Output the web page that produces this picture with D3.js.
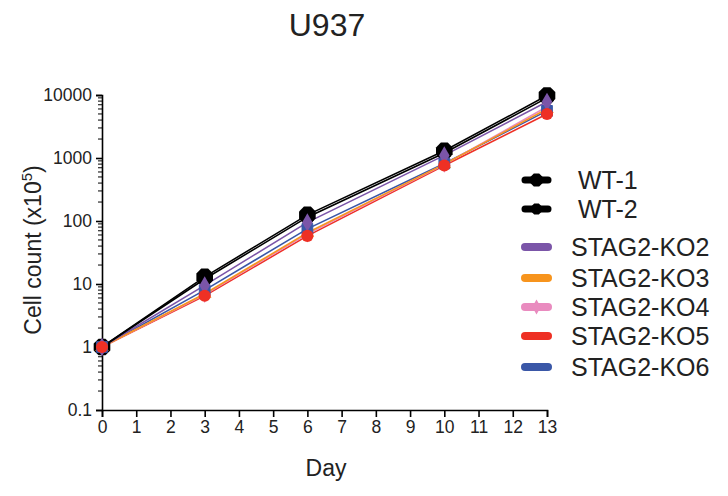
<!DOCTYPE html>
<html>
<head>
<meta charset="utf-8">
<script src="https://cdn.jsdelivr.net/npm/d3@7"></script>
<style>
  body { margin: 0; background: #fff; }
  svg text { font-family: "Liberation Sans", Arial, sans-serif; fill: #222; }
</style>
</head>
<body>
<svg id="chart" width="728" height="496"></svg>
<script>
// Data
var days = [0, 3, 6, 10, 13];
var seriesNames = ['WT-1', 'WT-2', 'STAG2-KO2', 'STAG2-KO3', 'STAG2-KO4', 'STAG2-KO5', 'STAG2-KO6'];
var wt1 = [1, 13, 125, 1300, 9800];
var wt2 = [1, 12, 115, 1200, 9000];
var ko2 = [1, 9.5, 95, 1100, 7800];
var ko3 = [1, 7, 65, 800, 6000];
var ko4 = [1, 6.8, 62, 790, 6500];
var ko5 = [1, 6.5, 58, 760, 5000];
var ko6 = [1, 8, 75, 820, 5600];
var yTicks = [0.1, 1, 10, 100, 1000, 10000];
var xTicks = d3.range(0, 14);

var colors = ['#000000', '#000000', '#7b55a8', '#f7941d', '#e98bbf', '#ee3024', '#3a57a7'];
var symbols = ['octagon', 'octagon', 'diamond', 'triangle', 'diamond', 'circle', 'square'];
var allValues = [wt1, wt2, ko2, ko3, ko4, ko5, ko6];

var svg = d3.select('#chart');
var padding = {l: 102, t: 95, r: 181, b: 86};
var width = 728 - padding.l - padding.r;
var height = 496 - padding.t - padding.b;

var xScale = d3.scaleLinear().domain([0, 13]).range([0, width]);
var yScale = d3.scaleLog().domain([0.1, 10000]).range([height, 0]);

var chartG = svg.append('g')
    .attr('transform', 'translate(' + [padding.l, padding.t] + ')');

// title
svg.append('text')
    .attr('x', 327).attr('y', 36)
    .attr('text-anchor', 'middle')
    .style('font-size', '32px')
    .text('U937');

// x axis
var xAxis = chartG.append('g')
    .attr('transform', 'translate(0,' + height + ')')
    .call(d3.axisBottom(xScale).tickValues(xTicks).tickSize(7).tickPadding(4).tickFormat(d3.format('d')));
xAxis.selectAll('text').style('font-size', '17.5px');

// y axis, major ticks
var yAxis = chartG.append('g')
    .call(d3.axisLeft(yScale).tickValues(yTicks).tickSize(6).tickPadding(4)
        .tickFormat(function(d) { return d < 1 ? '0.1' : d3.format('d')(d); }));
yAxis.selectAll('text').style('font-size', '17.5px');

// y axis minor ticks
var minor = [];
for (var e = -1; e < 4; e++) {
    for (var m = 2; m <= 9; m++) minor.push(m * Math.pow(10, e));
}
chartG.append('g').selectAll('line')
    .data(minor).enter().append('line')
    .attr('x1', -4).attr('x2', 0)
    .attr('y1', d => yScale(d)).attr('y2', d => yScale(d))
    .attr('stroke', '#000').attr('stroke-width', 1);

chartG.selectAll('.domain, .tick line').attr('stroke', '#000').attr('stroke-width', 1.6);

// axis labels
svg.append('text')
    .attr('x', 326).attr('y', 476)
    .attr('text-anchor', 'middle')
    .style('font-size', '23px')
    .text('Day');

var yl = svg.append('text')
    .attr('transform', 'translate(41,250)rotate(-90)')
    .attr('text-anchor', 'middle')
    .style('font-size', '23px');
yl.append('tspan').text('Cell count (x10');
yl.append('tspan').attr('dy', -9).style('font-size', '15px').text('5');
yl.append('tspan').attr('dy', 9).text(')');

function symbolPath(name, r) {
    if (name === 'octagon') {
        var pts = d3.range(8).map(function(i) {
            var a = Math.PI / 8 + i * Math.PI / 4;
            return [r * Math.cos(a), r * Math.sin(a)];
        });
        return 'M' + pts.join('L') + 'Z';
    }
    var map = {diamond: d3.symbolDiamond, triangle: d3.symbolTriangle, circle: d3.symbolCircle, square: d3.symbolSquare};
    return d3.symbol().type(map[name]).size(r * r * 3.2)();
}
var markerR = [9, 7.5, 5.5, 5, 5, 6, 6];

var line = d3.line()
    .x(d => xScale(d[0]))
    .y(d => yScale(d[1]));

// lines drawn back to front
var order = [6, 5, 4, 3, 2, 1, 0];
order.forEach(function(i) {
    var pts = days.map((d, j) => [d, allValues[i][j]]);
    chartG.append('path')
        .datum(pts)
        .attr('d', line)
        .attr('fill', 'none')
        .attr('stroke', colors[i])
        .attr('stroke-width', 1.6);
});
// markers: WT first (behind), then the KO ones
[0, 1, 4, 3, 6, 2, 5].forEach(function(i) {
    chartG.append('g').selectAll('path')
        .data(days.map((d, j) => [d, allValues[i][j]]))
        .enter().append('path')
        .attr('transform', d => 'translate(' + [xScale(d[0]), yScale(d[1])] + ')')
        .attr('d', symbolPath(symbols[i], markerR[i]))
        .attr('fill', colors[i])
        .attr('stroke', i === 6 ? '#3a57a7' : 'none');
});

// legend
var legendY = [180, 209, 247, 278, 307, 336, 367];
var legend = svg.append('g');
seriesNames.forEach(function(name, i) {
    var g = legend.append('g').attr('transform', 'translate(0,' + legendY[i] + ')');
    g.append('line')
        .attr('x1', 525).attr('x2', 548)
        .attr('stroke', colors[i])
        .attr('stroke-width', i < 2 ? 7 : 8)
        .attr('stroke-linecap', 'round');
    if (i < 2) {
        g.append('path')
            .attr('transform', 'translate(536.5,0)')
            .attr('d', symbolPath('octagon', i === 0 ? 7 : 6))
            .attr('fill', '#000');
    }
    if (i === 4) {
        g.append('path')
            .attr('transform', 'translate(536.5,0)')
            .attr('d', symbolPath('diamond', 4.5))
            .attr('fill', colors[i]);
    }
    g.append('text')
        .attr('x', i < 2 ? 578 : 571)
        .attr('y', 8.5)
        .style('font-size', '25px')
        .text(name);
});
</script>
</body>
</html>
